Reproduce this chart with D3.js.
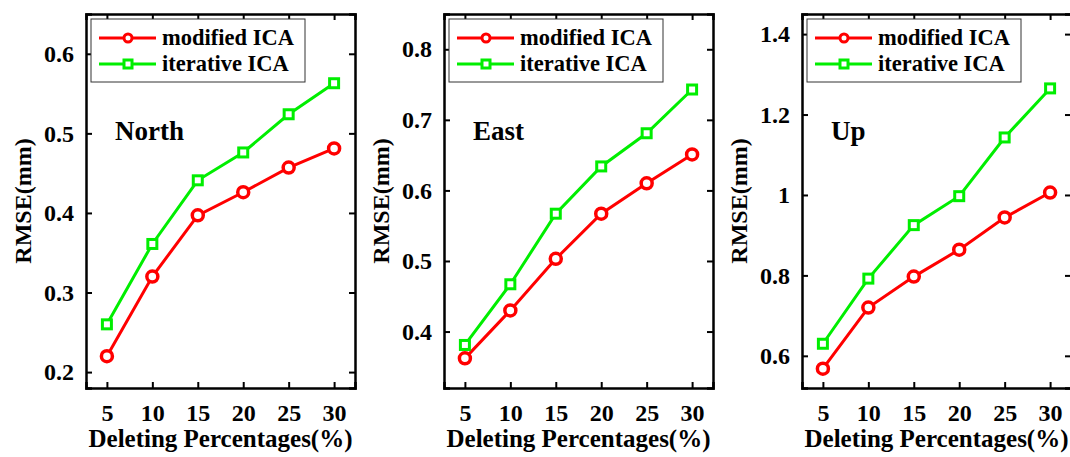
<!DOCTYPE html>
<html>
<head>
<meta charset="utf-8">
<script src="https://cdn.jsdelivr.net/npm/d3@7"></script>
<style>
  body { margin: 0; background: #fff; }
  svg text { font-family: "Liberation Serif", "Times New Roman", serif; font-weight: bold; }
</style>
</head>
<body>
<div id="vis"></div>
<script>
// chart data
const percentages = [5, 10, 15, 20, 25, 30]
const seriesNames = ["modified ICA", "iterative ICA"]
const seriesColors = ["#ff0000", "#00ee00"]

const northModified = [0.220, 0.320, 0.397, 0.426, 0.457, 0.481]
const northIterative = [0.260, 0.361, 0.441, 0.476, 0.524, 0.563]
const eastModified = [0.362, 0.430, 0.503, 0.567, 0.610, 0.651]
const eastIterative = [0.381, 0.467, 0.567, 0.634, 0.681, 0.743]
const upModified = [0.568, 0.720, 0.797, 0.864, 0.944, 1.006]
const upIterative = [0.630, 0.792, 0.925, 0.997, 1.143, 1.265]

const northTicks = [0.2, 0.3, 0.4, 0.5, 0.6]
const eastTicks = [0.4, 0.5, 0.6, 0.7, 0.8]
const upTicks = [0.6, 0.8, 1.0, 1.2, 1.4]

const panels = [
  { name: "North", left: 86, yDomain: [0.18, 0.65], ticks: northTicks, series: [northModified, northIterative] },
  { name: "East", left: 444, yDomain: [0.32, 0.85], ticks: eastTicks, series: [eastModified, eastIterative] },
  { name: "Up", left: 802, yDomain: [0.52, 1.45], ticks: upTicks, series: [upModified, upIterative] }
]

const plotTop = 14, plotBottom = 388, plotW = 269
const tickLen = 6

let svg = d3.select("#vis")
  .append("svg")
  .attr("width", 1070)
  .attr("height", 457)

function drawMarker(g, i, cx, cy, small) {
  if (i === 0) {
    g.append("circle")
      .attr("cx", cx).attr("cy", cy)
      .attr("r", small ? 4 : 5.5)
      .attr("fill", "#fff")
      .attr("stroke", seriesColors[i])
      .attr("stroke-width", small ? 3 : 3.5)
  } else {
    let s = small ? 8 : 9
    g.append("rect")
      .attr("x", cx - s / 2).attr("y", cy - s / 2)
      .attr("width", s).attr("height", s)
      .attr("fill", "#fff")
      .attr("stroke", seriesColors[i])
      .attr("stroke-width", 3)
  }
}

function drawPanel(p) {
  let g = svg.append("g")

  let x = d3.scaleLinear().domain([2.7, 32.3]).range([p.left, p.left + plotW])
  let y = d3.scaleLinear().domain(p.yDomain).range([plotBottom, plotTop])

  // axes, ticks inward on all four sides
  let tickFmt = d => String(+d.toFixed(1))
  g.append("g").attr("transform", `translate(0,${plotBottom})`)
    .call(d3.axisBottom(x).tickValues(percentages).tickSize(-tickLen).tickPadding(16).tickFormat(d3.format("d")))
  g.append("g").attr("transform", `translate(0,${plotTop})`)
    .call(d3.axisTop(x).tickValues(percentages).tickSize(-tickLen).tickFormat(""))
  g.append("g").attr("transform", `translate(${p.left},0)`)
    .call(d3.axisLeft(y).tickValues(p.ticks).tickSize(-tickLen).tickPadding(12).tickFormat(tickFmt))
  g.append("g").attr("transform", `translate(${p.left + plotW},0)`)
    .call(d3.axisRight(y).tickValues(p.ticks).tickSize(-tickLen).tickFormat(""))

  g.selectAll(".domain").attr("stroke", "#000").attr("stroke-width", 2.5)
  g.selectAll(".tick line").attr("stroke", "#000").attr("stroke-width", 2)
  g.selectAll(".tick text").attr("fill", "#000").style("font-size", "24px")
    .style("font-family", "Liberation Serif").style("font-weight", "bold")

  // lines + markers
  let line = d3.line().x((d, i) => x(percentages[i])).y(d => y(d))
  p.series.forEach((vals, si) => {
    g.append("path")
      .datum(vals)
      .attr("d", line)
      .attr("fill", "none")
      .attr("stroke", seriesColors[si])
      .attr("stroke-width", 3)
  })
  p.series.forEach((vals, si) => {
    vals.forEach((v, i) => drawMarker(g, si, x(percentages[i]), y(v), false))
  })

  // panel name
  g.append("text")
    .attr("x", p.left + 29).attr("y", 140)
    .style("font-size", "27px")
    .text(p.name)

  // legend
  let lg = g.append("g")
  lg.append("rect")
    .attr("x", p.left + 5).attr("y", 19)
    .attr("width", 214).attr("height", 63)
    .attr("fill", "#fff").attr("stroke", "#333").attr("stroke-width", 1)
  seriesNames.forEach((nm, si) => {
    let ly = 38 + si * 26
    lg.append("line")
      .attr("x1", p.left + 13).attr("x2", p.left + 70)
      .attr("y1", ly).attr("y2", ly)
      .attr("stroke", seriesColors[si]).attr("stroke-width", 3)
    drawMarker(lg, si, p.left + 42, ly, true)
    lg.append("text")
      .attr("x", p.left + 76).attr("y", ly + 7)
      .style("font-size", "22.5px")
      .text(nm)
  })

  // axis titles
  g.append("text")
    .attr("x", p.left + plotW / 2).attr("y", 447)
    .attr("text-anchor", "middle")
    .style("font-size", "25px")
    .text("Deleting Percentages(%)")
  g.append("text")
    .attr("transform", `translate(${p.left - 55},${(plotTop + plotBottom) / 2}) rotate(-90)`)
    .attr("text-anchor", "middle")
    .style("font-size", "24px")
    .text("RMSE(mm)")
}

panels.forEach(drawPanel)
</script>
</body>
</html>
